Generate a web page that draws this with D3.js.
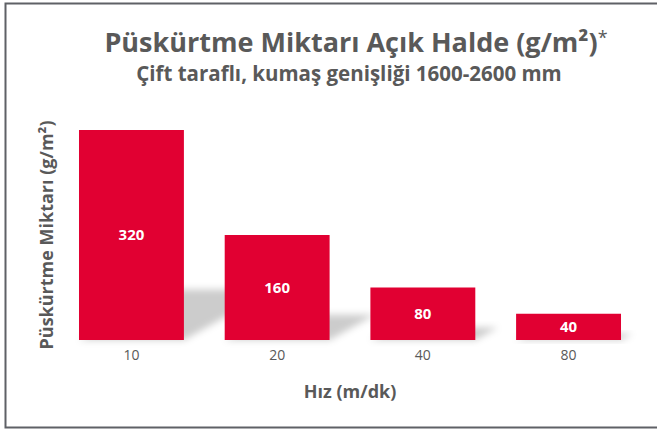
<!DOCTYPE html>
<html><head><meta charset="utf-8">
<script src="https://cdn.jsdelivr.net/npm/d3@7"></script>
<style>
html,body{margin:0;padding:0;background:#fff;}
svg{display:block;}
text{font-family:"Open Sans",sans-serif;}
</style></head>
<body>
<svg id="chart" width="657" height="430"></svg>
<script>
const categories = ["10", "20", "40", "80"];
const values = [320, 160, 80, 40];
const titleText = "Püskürtme Miktarı Açık Halde (g/m²)";
const subtitleText = "Çift taraflı, kumaş genişliği 1600-2600 mm";
const xTitle = "Hız (m/dk)";
const yTitle = "Püskürtme Miktarı (g/m²)";

const svg = d3.select("#chart");
const W = 657, H = 430;
const gray = "#595959";
const red = "#e10032";

// frame
svg.append("path").attr("d", `M${W},3.5 H5.5 V427.5 H${W}`)
  .attr("fill","none").attr("stroke","#5f6166").attr("stroke-width",2);

const x = d3.scaleBand().domain(categories).range([58.6, 641.4]).paddingInner(0.28).paddingOuter(0.14);
const y = d3.scaleLinear().domain([0, 320]).range([340, 130]);

const defs = svg.append("defs");
defs.append("filter").attr("id","blur").attr("x","-50%").attr("y","-50%").attr("width","200%").attr("height","200%")
  .append("feGaussianBlur").attr("stdDeviation", 3.5);

const data = categories.map((c,i)=>({c, v: values[i]}));

// shadows
svg.append("g").selectAll("path").data(data).join("path")
  .attr("d", d => {
    const x0 = x(d.c), x1 = x0 + x.bandwidth(), b = y(0), h = y(0) - y(d.v);
    const s = 0.43*h, k = 0.24*h;
    return `M${x0},${b} L${x1},${b} L${x1+s},${b-k} L${x0+s},${b-k} Z`;
  })
  .attr("fill","#000").attr("fill-opacity",0.2).attr("filter","url(#blur)");

// bars
svg.append("g").selectAll("rect").data(data).join("rect")
  .attr("x", d=>x(d.c)).attr("width", x.bandwidth())
  .attr("y", d=>y(d.v)).attr("height", d=>y(0)-y(d.v))
  .attr("fill", red);

// value labels
svg.append("g").selectAll("text").data(data).join("text")
  .attr("x", d=>x(d.c)+x.bandwidth()/2)
  .attr("y", d=>(y(d.v)+y(0))/2)
  .attr("dy","0.35em").attr("text-anchor","middle")
  .attr("fill","#fff").attr("font-weight","bold").attr("font-size",15)
  .text(d=>d.v);

// x axis labels
const xAxis = d3.axisBottom(x).tickSize(0).tickPadding(10);
const gx = svg.append("g").attr("transform",`translate(0,${y(0)})`).call(xAxis);
gx.select(".domain").remove();
gx.selectAll("text").attr("fill",gray).attr("font-size",14).attr("font-family","'Open Sans',sans-serif");

// titles
const t = svg.append("text").attr("x", 356).attr("y", 52).attr("text-anchor","middle")
  .attr("fill",gray).attr("font-weight","bold").attr("font-size",27);
t.append("tspan").text(titleText);
t.append("tspan").attr("font-weight","normal").attr("font-size",18).attr("dy",-8).text("*");

svg.append("text").attr("x", 349).attr("y", 81).attr("text-anchor","middle")
  .attr("fill",gray).attr("font-weight","bold").attr("font-size",20.5).text(subtitleText);

svg.append("text").attr("x", 350).attr("y", 398).attr("text-anchor","middle")
  .attr("fill",gray).attr("font-weight","bold").attr("font-size",18).text(xTitle);

svg.append("text").attr("transform","translate(53,235) rotate(-90)").attr("text-anchor","middle")
  .attr("fill",gray).attr("font-weight","bold").attr("font-size",18).text(yTitle);
</script>
</body></html>
